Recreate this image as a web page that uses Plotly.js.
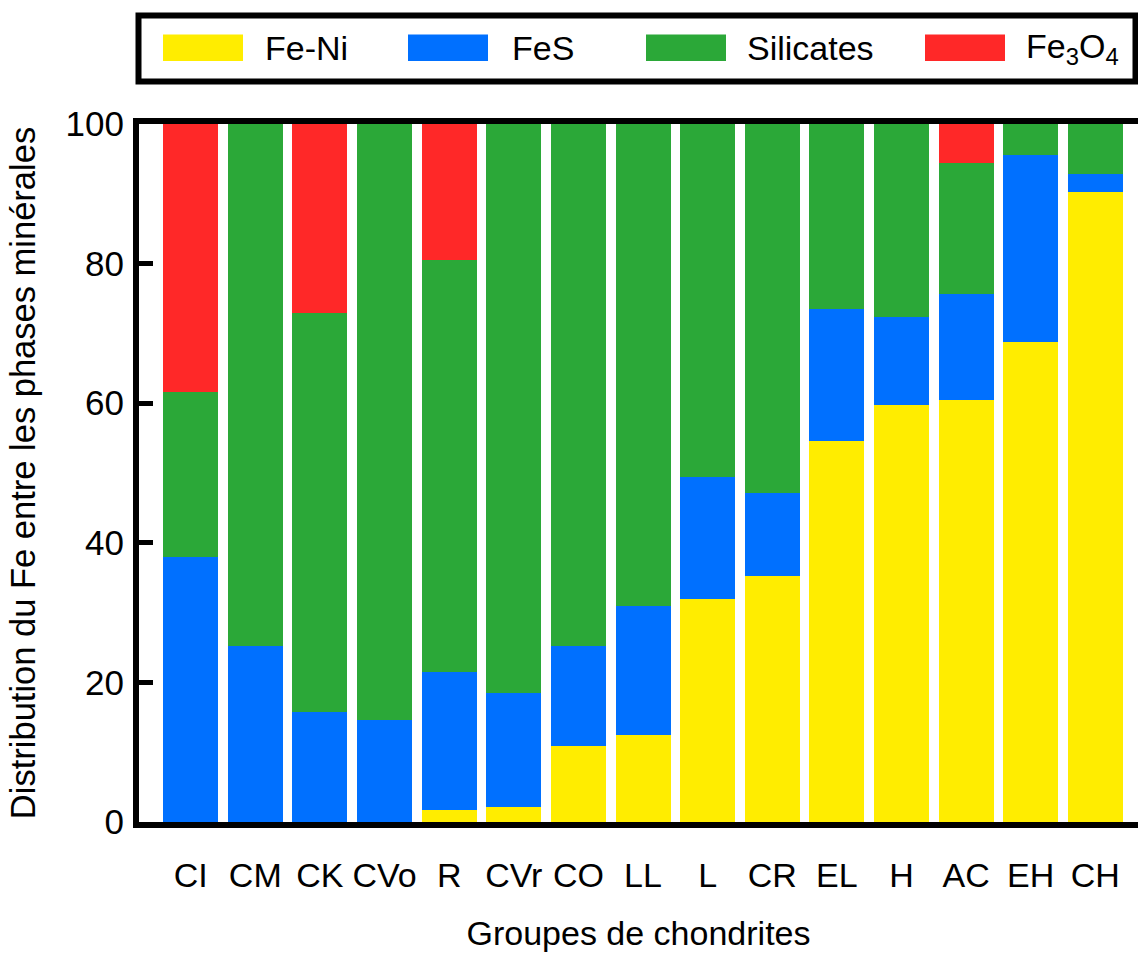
<!DOCTYPE html>
<html>
<head>
<meta charset="utf-8">
<script src="https://cdn.plot.ly/plotly-3.0.1.min.js"></script>
<style>
  html, body { margin: 0; padding: 0; background: #ffffff; }
  #chart { width: 1138px; height: 953px; }
</style>
</head>
<body>
<div id="chart"></div>
<script>
// ---- Data ----
const categories = ["CI", "CM", "CK", "CVo", "R", "CVr", "CO", "LL", "L", "CR", "EL", "H", "AC", "EH", "CH"];
const feNi      = [0,    0,    0,    0,    1.7,  2.1,  10.9, 12.4, 31.9, 35.3, 54.6, 59.7, 60.5, 68.7, 90.2];
const feS       = [38.0, 25.2, 15.8, 14.6, 19.8, 16.4, 14.3, 18.6, 17.5, 11.9, 18.9, 12.7, 15.2, 26.8, 2.6];
const silicates = [23.6, 74.8, 57.1, 85.4, 59.0, 81.5, 74.8, 69.0, 50.6, 52.8, 26.5, 27.6, 18.7, 4.5,  7.2];
const fe3o4     = [38.4, 0,    27.1, 0,    19.5, 0,    0,    0,    0,    0,    0,    0,    5.6,  0,    0];
const seriesNames = ["Fe-Ni", "FeS", "Silicates", "Fe<sub>3</sub>O<sub>4</sub>"];
const yTicks = [0, 20, 40, 60, 80, 100];
const xTitle = "Groupes de chondrites";
const yTitle = "Distribution du Fe entre les phases minérales";

// ---- Style ----
const colors = ["#FFED00", "#0070FF", "#2BA838", "#FF2828"];
const FONT = "Liberation Sans, Arial, Helvetica, sans-serif";
const W = 1138, H = 953;
const M = { l: 139, r: 0, t: 124, b: 131 };
const plotW = W - M.l - M.r, plotH = H - M.t - M.b;
const px2x = px => (px - M.l) / plotW;
const py2y = py => (H - M.b - py) / plotH;

const values = [feNi, feS, silicates, fe3o4];
const traces = values.map((v, k) => ({
  type: "bar",
  x: categories,
  y: v,
  name: seriesNames[k],
  marker: { color: colors[k], line: { width: 0 } },
  showlegend: false,
  hoverinfo: "x+y+name"
}));

// ---- Manual legend (box + swatches + labels) ----
const shapes = [{
  type: "rect", xref: "paper", yref: "paper",
  x0: px2x(138.5), x1: px2x(1135.5), y0: py2y(81.5), y1: py2y(15.5),
  line: { color: "#000000", width: 6 }, fillcolor: "rgba(0,0,0,0)"
}];
const annotations = [];
const swatchX = [163, 408, 646, 925];
const labelX  = [263, 510, 745, 1024];
for (let k = 0; k < 4; k++) {
  shapes.push({
    type: "rect", xref: "paper", yref: "paper",
    x0: px2x(swatchX[k]), x1: px2x(swatchX[k] + 80),
    y0: py2y(61), y1: py2y(34.5),
    line: { width: 0 }, fillcolor: colors[k]
  });
  annotations.push({
    xref: "paper", yref: "paper",
    x: px2x(labelX[k]), y: py2y(48),
    xanchor: "left", yanchor: "middle",
    text: seriesNames[k], showarrow: false,
    font: { family: FONT, size: 34, color: "#000000" }
  });
}

const layout = {
  width: W, height: H,
  margin: M,
  paper_bgcolor: "#ffffff",
  plot_bgcolor: "#ffffff",
  barmode: "stack",
  bargap: 0.148,
  font: { family: FONT, size: 34, color: "#000000" },
  xaxis: {
    type: "category",
    range: [-0.8, 14.66],
    showline: true, linecolor: "#000000", linewidth: 6,
    mirror: true,
    ticks: "", showgrid: false, zeroline: false,
    tickfont: { family: FONT, size: 34, color: "#000000" },
    ticklabelstandoff: 18,
    title: { text: xTitle, font: { family: FONT, size: 34, color: "#000000" }, standoff: 30 }
  },
  yaxis: {
    range: [0, 100],
    tickvals: yTicks,
    ticktext: yTicks.map(String),
    showline: true, linecolor: "#000000", linewidth: 6,
    ticks: "inside", ticklen: 14, tickwidth: 5, tickcolor: "#000000",
    showgrid: false, zeroline: false,
    tickfont: { family: FONT, size: 35, color: "#000000" },
    ticklabelstandoff: 2,
    title: { text: yTitle, font: { family: FONT, size: 34.5, color: "#000000" }, standoff: 22 }
  },
  shapes: shapes,
  annotations: annotations
};

Plotly.newPlot("chart", traces, layout, { displayModeBar: false, staticPlot: true });
</script>
</body>
</html>
